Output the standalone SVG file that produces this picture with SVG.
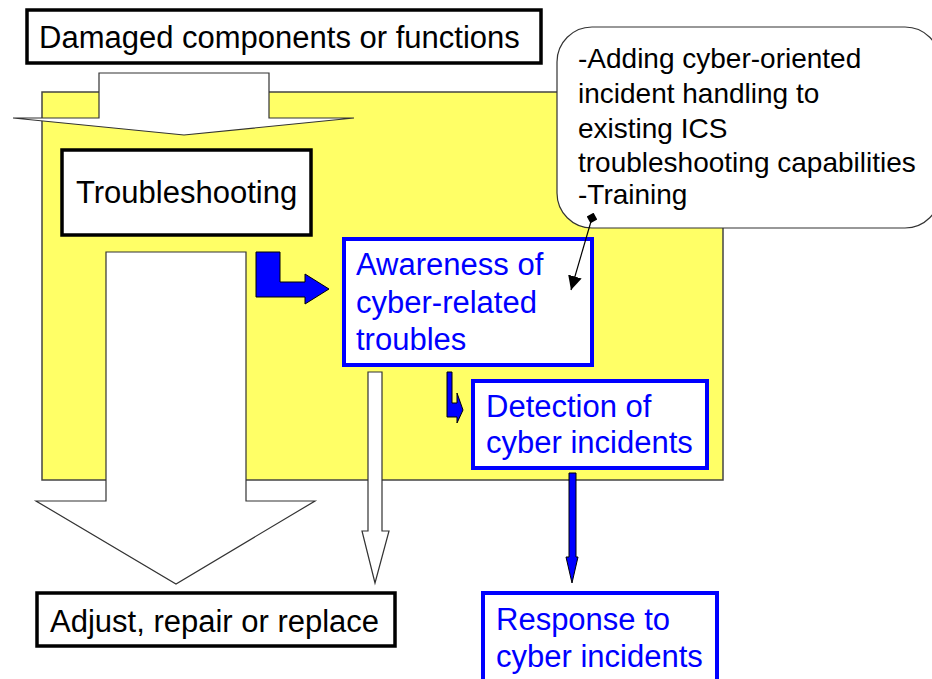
<svg xmlns="http://www.w3.org/2000/svg" width="932" height="679" viewBox="0 0 932 679">
<style>
text{font-family:"Liberation Sans",Arial,sans-serif;font-size:31px}
.blk{fill:#000}
.blu{fill:#0000FF}
.bbox{fill:#fff;stroke:#000;stroke-width:3.5}
.ubox{fill:#fff;stroke:#0000FF;stroke-width:4}
.warr{fill:#fff;stroke:#333;stroke-width:1.2}
.barr{fill:#0000FF;stroke:#000;stroke-width:1}
.call{font-size:28px}
</style>
<defs>
<marker id="dia" viewBox="0 0 10 10" refX="5" refY="5" markerWidth="11" markerHeight="11" markerUnits="userSpaceOnUse" orient="auto"><path d="M0,5 L5,0 L10,5 L5,10 Z" fill="#000"/></marker>
<marker id="ah" viewBox="0 0 10 10" refX="10" refY="5" markerWidth="14" markerHeight="14" markerUnits="userSpaceOnUse" orient="auto"><path d="M0,0 L10,5 L0,10 Z" fill="#000"/></marker>
</defs>
<rect id="zone" x="42" y="92" width="681" height="388" fill="#FFFF66" stroke="#444" stroke-width="1.5"/>
<g id="damaged">
<rect class="bbox" x="27" y="10" width="514" height="53"/>
<text class="blk" x="39" y="48">Damaged components or functions</text>
</g>
<g id="troubleshooting">
<rect class="bbox" x="62" y="150" width="249" height="85"/>
<text class="blk" x="76" y="203">Troubleshooting</text>
</g>
<g id="callout">
<rect x="557" y="27" width="383" height="201" rx="35" ry="35" fill="#fff" stroke="#333" stroke-width="1.2"/>
<text class="blk call" x="578" y="68">-Adding cyber-oriented</text>
<text class="blk call" x="578" y="103">incident handling to</text>
<text class="blk call" x="578" y="138">existing ICS</text>
<text class="blk call" x="578" y="172">troubleshooting capabilities</text>
<text class="blk call" x="578" y="204">-Training</text>
</g>
<g id="awareness">
<rect class="ubox" x="344" y="239" width="248" height="126"/>
<text class="blu" x="356" y="275">Awareness of</text>
<text class="blu" x="356" y="313">cyber-related</text>
<text class="blu" x="356" y="350">troubles</text>
</g>
<g id="detection">
<rect class="ubox" x="473" y="381" width="234" height="87"/>
<text class="blu" x="486" y="417">Detection of</text>
<text class="blu" x="486" y="453">cyber incidents</text>
</g>
<g id="adjust">
<rect class="bbox" x="37" y="593" width="358" height="53"/>
<text class="blk" x="50" y="632">Adjust, repair or replace</text>
</g>
<g id="response">
<rect class="ubox" x="483" y="593" width="234" height="100"/>
<text class="blu" x="496" y="630">Response to</text>
<text class="blu" x="496" y="667">cyber incidents</text>
</g>
<g id="connectors">
<path class="warr" d="M99,73 H269 V118 H354 L184,135 L13,118 H99 Z"/>
<path class="warr" d="M106,252 H246 V501 H315 L176,584 L36,501 H106 Z"/>
<path class="warr" d="M368,372 H382 V531 H389 L375,583 L362,531 H368 Z"/>
<path class="barr" d="M256,252 H280 V282 H305 V274 L329,289 L305,304 V297 H256 Z"/>
<path class="barr" d="M447,372 H452 V403 H457 V393 L463,410 L457,423 V417 H447 Z"/>
<path class="barr" d="M569,473 H576 V557 H578 L572,583 L566,557 H569 Z"/>
<line x1="592" y1="218" x2="571" y2="290" stroke="#000" stroke-width="1.2" marker-start="url(#dia)" marker-end="url(#ah)"/>
</g>
</svg>
